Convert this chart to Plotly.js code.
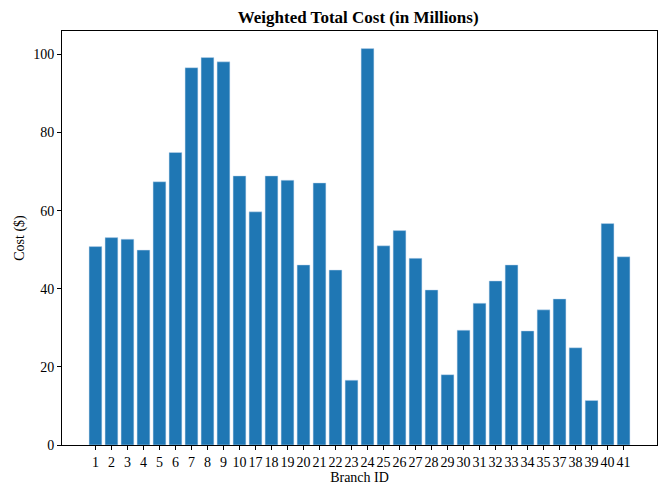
<!DOCTYPE html>
<html>
<head>
<meta charset="utf-8">
<script src="https://cdn.plot.ly/plotly-3.0.1.min.js"></script>
<style>html,body{margin:0;padding:0;background:#fff}#chart{width:667px;height:485px}</style>
</head>
<body>
<div id="chart"></div>
<script>
const branchIds = ["1","2","3","4","5","6","7","8","9","10","17","18","19","20","21","22","23","24","25","26","27","28","29","30","31","32","33","34","35","37","38","39","40","41"];
const costs = [50.8,53.1,52.7,49.9,67.4,74.9,96.6,99.2,98.1,68.9,59.7,68.9,67.8,46.1,67.1,44.8,16.6,101.5,51.0,54.9,47.8,39.7,18.0,29.4,36.3,42.0,46.1,29.2,34.6,37.4,24.9,11.4,56.7,48.2];
const yTicks = [0,20,40,60,80,100];

const n = branchIds.length;
const trace = {
  type: 'bar',
  x: branchIds,
  y: costs,
  marker: {color: '#1f77b4', line: {color: 'rgba(200,220,240,0.8)', width: 0.6}},
  hoverinfo: 'x+y'
};
const font = {family: '"Liberation Serif", "Times New Roman", serif', color: '#000'};
const layout = {
  width: 667, height: 485,
  margin: {l: 62, r: 10, t: 31, b: 40},
  paper_bgcolor: '#fff', plot_bgcolor: '#fff',
  bargap: 0.2,
  showlegend: false,
  font: Object.assign({size: 14}, font),
  title: {text: '<b>Weighted Total Cost (in Millions)</b>', x: 0.537, xanchor: 'center', y: 0.965, yanchor: 'middle', font: Object.assign({size: 17}, font)},
  xaxis: {
    type: 'category',
    range: [-0.05*(n-0.2) - 0.4, n - 0.6 + 0.05*(n-0.2)],
    tickmode: 'array',
    tickvals: branchIds,
    ticktext: branchIds,
    showline: true, linecolor: '#000', linewidth: 1, mirror: true,
    ticks: 'outside', ticklen: 4, tickcolor: '#000',
    showgrid: false, zeroline: false,
    tickangle: 0,
    tickfont: Object.assign({size: 14}, font),
    title: {text: 'Branch ID', standoff: 2, font: Object.assign({size: 14}, font)}
  },
  yaxis: {
    range: [0, 106.0],
    tickvals: yTicks,
    ticktext: yTicks.map(String),
    showline: true, linecolor: '#000', linewidth: 1, mirror: true,
    ticks: 'outside', ticklen: 4, tickcolor: '#000',
    showgrid: false, zeroline: false,
    tickfont: Object.assign({size: 14}, font),
    title: {text: 'Cost ($)', standoff: 5, font: Object.assign({size: 14}, font)}
  }
};
Plotly.newPlot('chart', [trace], layout, {displayModeBar: false, staticPlot: true});
</script>
</body>
</html>
